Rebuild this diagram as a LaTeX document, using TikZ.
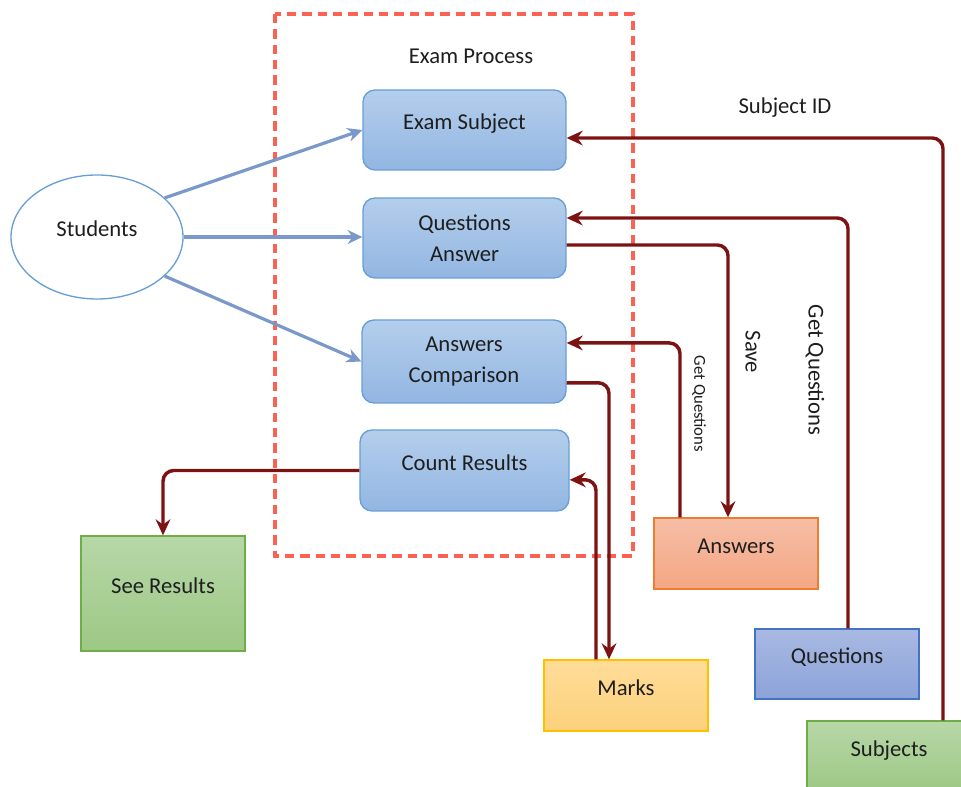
\documentclass[tikz,border=0pt]{standalone}
\usepackage{fontspec}
\setmainfont{Carlito}
\usetikzlibrary{arrows.meta,shapes.geometric}

\definecolor{proctop}{RGB}{180,206,236}
\definecolor{procbot}{RGB}{146,182,226}
\definecolor{procline}{RGB}{104,158,214}
\definecolor{greentop}{RGB}{183,215,168}
\definecolor{greenbot}{RGB}{157,200,132}
\definecolor{greenline}{RGB}{112,173,71}
\definecolor{anstop}{RGB}{246,190,166}
\definecolor{ansbot}{RGB}{244,166,132}
\definecolor{ansline}{RGB}{237,125,49}
\definecolor{marktop}{RGB}{254,220,152}
\definecolor{markbot}{RGB}{253,209,124}
\definecolor{markline}{RGB}{255,192,0}
\definecolor{questop}{RGB}{168,185,226}
\definecolor{quesbot}{RGB}{140,163,217}
\definecolor{quesline}{RGB}{68,114,196}
\definecolor{linkred}{RGB}{125,18,18}
\definecolor{flowblue}{RGB}{122,152,202}
\definecolor{frameline}{RGB}{252,98,82}
\definecolor{ink}{RGB}{30,30,30}

\tikzset{
  proc/.style={draw=procline, line width=1pt, rounded corners=9pt,
    top color=proctop, bottom color=procbot, text=ink,
    minimum width=152.25pt, minimum height=60pt, align=center, inner sep=0pt},
  store/.style={line width=1pt, minimum width=123pt, minimum height=53.25pt,
    inner sep=0pt, text=ink},
  raised/.style={text height=8pt, text depth=8pt},
  flow/.style={-{Stealth[length=11pt,width=10.5pt,inset=3.5pt]}, draw=flowblue, line width=2.4pt},
  link/.style={-{Stealth[length=12pt,width=11pt,inset=4pt]}, draw=linkred, line width=2.6pt,
    rounded corners=8pt},
  lbl/.style={text=ink}
}

\begin{document}
\begin{tikzpicture}[x=0.75pt,y=-0.75pt,font=\fontsize{17}{23}\selectfont]
\useasboundingbox (0,0) rectangle (961,787);
\clip (0,0) rectangle (961,787);

% exam process frame
\draw[draw=frameline, line width=2.3pt, dash pattern=on 7pt off 4.5pt] (275,14) rectangle (633,556);
\node[lbl] (examproc) at (471,56) {Exam Process};

% processes
\node[proc, raised] (examsubj) at (464.5,130) {Exam Subject};
\node[proc] (qanswer) at (464.5,238) {Questions\\Answer};
\node[proc, minimum width=153pt, minimum height=62.25pt] (acomp) at (464,361.5) {Answers\\Comparison};
\node[proc, raised, minimum width=156.75pt, minimum height=60.75pt] (countres) at (464.5,470.5) {Count Results};

% students
\node[ellipse, draw=procline, line width=1pt, minimum width=129pt, minimum height=93pt,
  inner sep=0pt, raised, text=ink] (students) at (97,237) {Students};

% stores
\node[store, raised, draw=greenline, top color=greentop, bottom color=greenbot,
  minimum height=86.25pt] (seeres) at (163,593.5) {See Results};
\node[store, raised, draw=ansline, top color=anstop, bottom color=ansbot] (answers) at (736,553.5) {Answers};
\node[store, raised, draw=markline, top color=marktop, bottom color=markbot] (marks) at (626,695.5) {Marks};
\node[store, raised, draw=quesline, top color=questop, bottom color=quesbot,
  minimum height=52.5pt] (questions) at (837,664) {Questions};
\node[store, raised, draw=greenline, top color=greentop, bottom color=greenbot] (subjects) at (889,756.5) {Subjects};

% students to processes
\draw[flow] (students.30) -- (examsubj.west);
\draw[flow] (students.east) -- (students.east -| qanswer.west);
\draw[flow] (students.-30) -- (acomp.west);

% data flows
\draw[link] ([xshift=40.5pt]subjects.north) |- ([yshift=-6pt]examsubj.east);
\draw[link] ([xshift=8.25pt]questions.north) |- ([yshift=15pt]qanswer.east);
\draw[link] ([yshift=-5.25pt]qanswer.east) -| ([xshift=-6pt]answers.north);
\draw[link] ([xshift=-42pt]answers.north) |- ([yshift=13.9pt]acomp.east);
\draw[link] ([yshift=-16pt]acomp.east) -| ([xshift=-12.75pt]marks.north);
\draw[link] ([xshift=-22.5pt]marks.north) |- ([yshift=-7pt]countres.east);
\draw[link] (countres.west) -| (seeres.north);

% labels
\node[lbl] (subjid) at (785,108) {Subject ID};
\node[lbl, rotate=-90] (getq) at (815,370) {Get Questions};
\node[lbl, rotate=-90] (save) at (753,352) {Save};
\node[lbl, rotate=-90, font=\fontsize{12.5}{15}\selectfont] (getqsmall) at (699,404) {Get Questions};
\end{tikzpicture}
\end{document}
